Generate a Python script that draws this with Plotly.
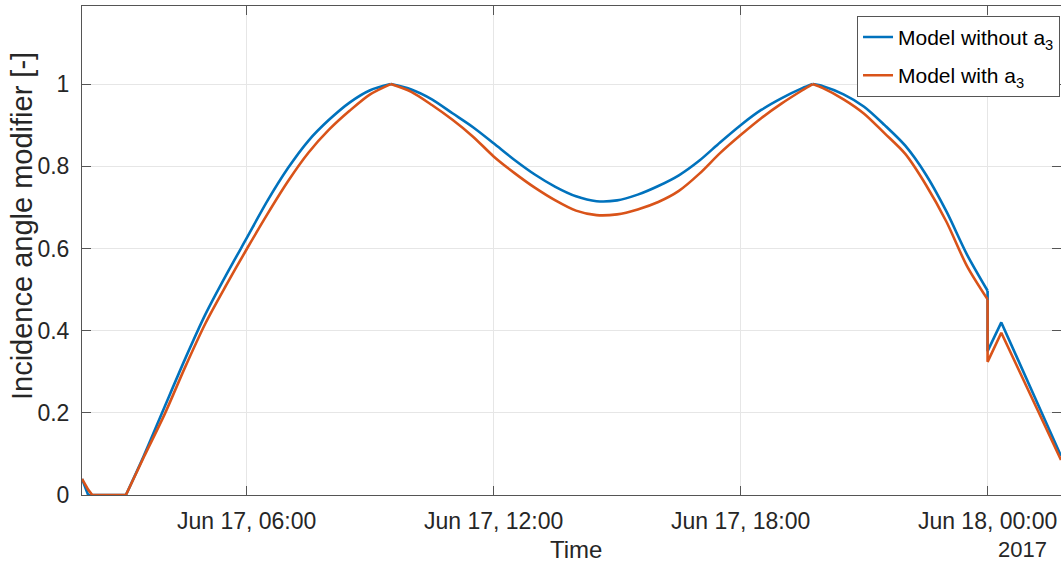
import plotly.graph_objects as go

# Time stamps (shared by both series)
times = [
    "2017-06-17 02:00", "2017-06-17 02:09", "2017-06-17 02:15", "2017-06-17 03:04",
    "2017-06-17 03:30", "2017-06-17 04:00", "2017-06-17 04:30", "2017-06-17 05:00",
    "2017-06-17 05:30", "2017-06-17 06:00", "2017-06-17 06:30", "2017-06-17 07:00",
    "2017-06-17 07:30", "2017-06-17 08:00", "2017-06-17 08:30", "2017-06-17 09:00",
    "2017-06-17 09:30", "2017-06-17 10:00", "2017-06-17 10:30", "2017-06-17 11:00",
    "2017-06-17 11:30", "2017-06-17 12:00", "2017-06-17 12:30", "2017-06-17 13:00",
    "2017-06-17 13:30", "2017-06-17 14:00", "2017-06-17 14:30", "2017-06-17 15:00",
    "2017-06-17 15:30", "2017-06-17 16:00", "2017-06-17 16:30", "2017-06-17 17:00",
    "2017-06-17 17:30", "2017-06-17 18:00", "2017-06-17 18:30", "2017-06-17 19:00",
    "2017-06-17 19:30", "2017-06-17 19:45", "2017-06-17 20:00", "2017-06-17 20:30",
    "2017-06-17 21:00", "2017-06-17 21:30", "2017-06-17 22:00", "2017-06-17 22:30",
    "2017-06-17 23:00", "2017-06-17 23:30", "2017-06-18 00:00", "2017-06-18 00:00",
    "2017-06-18 00:20", "2017-06-18 01:47",
]

model_without_a3 = [
    0.039, 0.0, 0.0, 0.0,
    0.095, 0.213, 0.33, 0.44,
    0.535, 0.625, 0.715, 0.795,
    0.862, 0.913, 0.955, 0.985,
    1.0, 0.987, 0.963, 0.929,
    0.895, 0.856, 0.816, 0.78,
    0.75, 0.727, 0.715, 0.717,
    0.731, 0.752, 0.778, 0.814,
    0.858, 0.9, 0.937, 0.966,
    0.99, 1.0, 0.995, 0.975,
    0.945, 0.90, 0.85, 0.78,
    0.69, 0.585, 0.497, 0.35,
    0.42, 0.095,
]

model_with_a3 = [
    0.039, 0.013, 0.0, 0.0,
    0.092, 0.195, 0.31, 0.418,
    0.51, 0.598, 0.683, 0.763,
    0.833, 0.889, 0.935, 0.975,
    1.0, 0.981, 0.949, 0.913,
    0.872, 0.824, 0.784, 0.748,
    0.717, 0.692, 0.681, 0.683,
    0.695, 0.713, 0.74, 0.782,
    0.832, 0.876, 0.917, 0.953,
    0.985, 1.0, 0.99, 0.963,
    0.928, 0.88, 0.83, 0.755,
    0.665, 0.557, 0.476, 0.324,
    0.395, 0.085,
]

# index ranges of the smooth / straight pieces of the curves
segments = [(0, 3, "linear"), (3, 16, "spline"), (16, 37, "spline"),
            (37, 46, "spline"), (46, 49, "linear")]

x_tick_vals = ["2017-06-17 06:00", "2017-06-17 12:00", "2017-06-17 18:00", "2017-06-18 00:00"]
x_tick_text = ["Jun 17, 06:00", "Jun 17, 12:00", "Jun 17, 18:00", "Jun 18, 00:00"]
y_tick_vals = [0, 0.2, 0.4, 0.6, 0.8, 1]
y_tick_text = ["0", "0.2", "0.4", "0.6", "0.8", "1"]
year_label = "2017"

FONT = "Liberation Sans, Arial, Helvetica, sans-serif"
AX = "#262626"

fig = go.Figure()
series = [("Model without a<sub>3</sub>", model_without_a3, "#0072BD", "g1"),
          ("Model with a<sub>3</sub>", model_with_a3, "#D95319", "g2")]
for name, vals, color, grp in series:
    for k, (i0, i1, shape) in enumerate(segments):
        fig.add_trace(go.Scatter(
            x=times[i0:i1 + 1], y=vals[i0:i1 + 1], mode="lines",
            name=name, legendgroup=grp, showlegend=(k == 0),
            line=dict(color=color, width=2.6, shape=shape,
                      smoothing=0.8 if shape == "spline" else None)))

fig.update_layout(
    width=1061, height=563,
    margin=dict(l=82, r=0, t=6, b=68),
    paper_bgcolor="white", plot_bgcolor="white",
    font=dict(family=FONT, color=AX),
    showlegend=True,
    legend=dict(x=0.999, xanchor="right", y=0.98, yanchor="top",
                bgcolor="white", bordercolor="#555555", borderwidth=1,
                font=dict(size=21, color="black"), tracegroupgap=8),
)
fig.update_xaxes(
    type="date", automargin=False,
    range=["2017-06-17 02:00", "2017-06-18 01:47"],
    tickmode="array", tickvals=x_tick_vals, ticktext=x_tick_text,
    tickfont=dict(size=23, color=AX),
    ticks="inside", ticklen=9, tickcolor="#555555",
    showline=True, linecolor="#555555", linewidth=1, mirror="ticks",
    showgrid=True, gridcolor="#e6e6e6", gridwidth=1,
    zeroline=False,
    ticklabelstandoff=5,
)
fig.update_yaxes(
    automargin=False,
    range=[0, 1.19],
    tickmode="array", tickvals=y_tick_vals, ticktext=y_tick_text,
    tickfont=dict(size=23, color=AX),
    ticks="inside", ticklen=9, tickcolor="#555555",
    showline=True, linecolor="#555555", linewidth=1, mirror="ticks",
    showgrid=True, gridcolor="#e6e6e6", gridwidth=1,
    zeroline=False,
    ticklabelstandoff=7,
)
# axis titles
fig.add_annotation(text="Time", xref="paper", yref="paper", x=0.5046, y=0,
                   xanchor="center", yanchor="middle", yshift=-54,
                   showarrow=False, font=dict(size=24, color=AX))
fig.add_annotation(text="Incidence angle modifier [-]", xref="paper", yref="paper",
                   x=0, y=0.55, xanchor="center", yanchor="middle", xshift=-60,
                   textangle=-90, showarrow=False, font=dict(size=29, color=AX))
fig.add_annotation(text=year_label, xref="paper", yref="paper", x=1, y=0,
                   xanchor="right", yanchor="top", xshift=-12, yshift=-40,
                   showarrow=False, font=dict(size=22, color=AX))

fig.write_html("out.html", config={"displayModeBar": False})

with open("out.html", "r", encoding="utf-8") as f:
    html = f.read()
html = html.replace("<body>", '<body style="margin:0;padding:0;overflow:hidden">', 1)
with open("out.html", "w", encoding="utf-8") as f:
    f.write(html)
